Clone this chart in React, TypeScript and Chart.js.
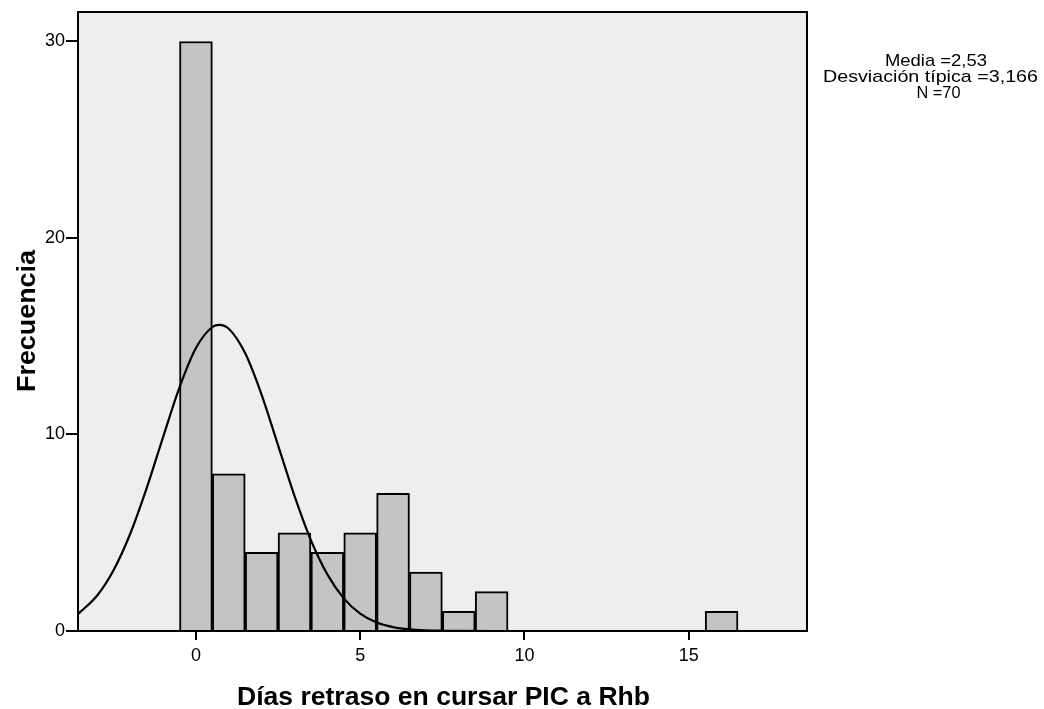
import React, { useEffect, useRef } from "react";
import { Chart, registerables } from "chart.js";

Chart.register(...registerables);

// Histogram bins (bin centres, width 1 day) and frequencies
const binCentres = [0, 1, 2, 3, 4, 5, 6, 7, 8, 9, 16];
const frequencies = [30, 8, 4, 5, 4, 5, 7, 3, 1, 2, 1];

// Normal curve
const curveX = [-3.59, -3, -2.5, -2, -1.5, -1, -0.5, 0, 0.5, 0.71, 1, 1.5, 2, 2.5, 3, 3.5, 4, 4.5, 5, 5.5, 6, 6.5, 7, 7.5, 8, 9, 10, 12, 14, 16, 18.6];
const curveY = [0.86, 1.82, 3.12, 4.95, 7.27, 9.87, 12.4, 14.4, 15.47, 15.58, 15.38, 14.13, 12.02, 9.45, 6.88, 4.62, 2.88, 1.66, 0.88, 0.43, 0.2, 0.08, 0.03, 0.012, 0.004, 0, 0, 0, 0, 0, 0];

const xTicks = [0, 5, 10, 15];
const yTicks = [0, 10, 20, 30];

const statsLines = ["Media =2,53", "Desviación típica =3,166", "N =70"];
const xTitle = "Días retraso en cursar PIC a Rhb";
const yTitle = "Frecuencia";

const FONT = "'Liberation Sans', Arial, sans-serif";

function fitText(ctx: CanvasRenderingContext2D, text: string, x: number, y: number, width: number) {
  const w = ctx.measureText(text).width;
  const s = width / w;
  ctx.save();
  ctx.translate(x, y);
  ctx.scale(s, 1);
  ctx.fillText(text, 0, 0);
  ctx.restore();
}

export default function App() {
  const ref = useRef<HTMLCanvasElement | null>(null);

  useEffect(() => {
    const canvas = ref.current;
    if (!canvas) return;

    const framePlugin = {
      id: "frame",
      beforeDraw(chart: any) {
        const { ctx, chartArea: a } = chart;
        ctx.save();
        ctx.fillStyle = "#eeeeee";
        ctx.fillRect(a.left, a.top, a.right - a.left, a.bottom - a.top);
        ctx.restore();
      },
      afterDraw(chart: any) {
        const { ctx, chartArea: a } = chart;
        ctx.save();
        ctx.strokeStyle = "#000";
        ctx.lineWidth = 2;
        ctx.strokeRect(a.left, a.top, a.right - a.left, a.bottom - a.top);
        // stats text
        ctx.fillStyle = "#000";
        ctx.font = `17px ${FONT}`;
        ctx.textAlign = "center";
        ctx.textBaseline = "alphabetic";
        const widths = [102, 215, 44];
        const centres = [936, 930.5, 938.5];
        statsLines.forEach((t, i) => fitText(ctx, t, centres[i], 66 + i * 16, widths[i]));
        // axis titles
        ctx.font = `bold 25px ${FONT}`;
        fitText(ctx, xTitle, 443.5, 705, 413);
        ctx.translate(35, 321);
        ctx.rotate(-Math.PI / 2);
        fitText(ctx, yTitle, 0, 0, 142);
        ctx.restore();
      },
    };

    const chart = new Chart(canvas, {
      type: "bar",
      data: {
        datasets: [
          {
            type: "line",
            data: curveX.map((x, i) => ({ x, y: curveY[i] })),
            borderColor: "#000",
            borderWidth: 2.2,
            pointRadius: 0,
            cubicInterpolationMode: "monotone",
            fill: false,
            order: 0,
          } as any,
          {
            type: "bar",
            data: binCentres.map((x, i) => ({ x, y: frequencies[i] })),
            backgroundColor: "#c4c4c4",
            borderColor: "#000",
            borderWidth: 2,
            barPercentage: 1,
            categoryPercentage: 1,
            order: 1,
          } as any,
        ],
      },
      options: {
        responsive: false,
        animation: false,
        layout: { padding: { left: 0, top: 12, right: 237, bottom: 0 } },
        plugins: { legend: { display: false }, tooltip: { enabled: false } },
        scales: {
          x: {
            type: "linear",
            offset: false,
            min: -3.59,
            max: 18.6,
            afterBuildTicks: (s: any) => {
              s.ticks = xTicks.map((v) => ({ value: v }));
            },
            afterFit: (s: any) => {
              s.height = 78;
            },
            ticks: { color: "#000", font: { family: FONT, size: 18 }, padding: 5 },
            grid: { offset: false, drawOnChartArea: false, drawTicks: true, tickLength: 9, color: "#000", lineWidth: 2 },
            border: { display: true, color: "#000", width: 2 },
          },
          y: {
            type: "linear",
            min: 0,
            max: 31.5,
            afterBuildTicks: (s: any) => {
              s.ticks = yTicks.map((v) => ({ value: v }));
            },
            afterFit: (s: any) => {
              s.width = 78;
            },
            ticks: { color: "#000", font: { family: FONT, size: 18 }, padding: 1 },
            grid: { drawOnChartArea: false, drawTicks: true, tickLength: 12, color: "#000", lineWidth: 2 },
            border: { display: true, color: "#000", width: 2 },
          },
        },
      },
      plugins: [framePlugin],
    });

    return () => chart.destroy();
  }, []);

  return (
    <div style={{ position: "fixed", left: 0, top: 0, width: 1044, height: 709, background: "#fff" }}>
      <canvas ref={ref} width={1044} height={709} />
    </div>
  );
}
